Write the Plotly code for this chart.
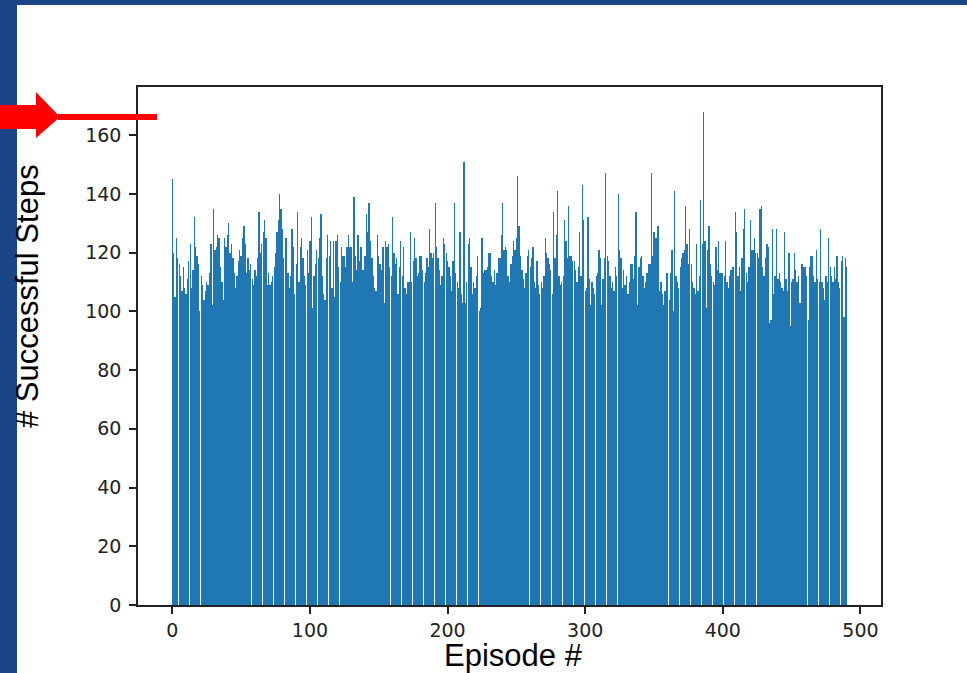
import plotly.graph_objects as go

# Successful steps per episode, in blocks of 100 episodes
steps_000_099 = [
    145, 120, 105, 125, 118, 116, 112, 107, 115, 108,
    106, 111, 117, 123, 108, 114, 132, 122, 119, 116,
    100, 112, 109, 104, 107, 110, 109, 113, 123, 102,
    135, 121, 122, 126, 125, 115, 110, 104, 125, 122,
    126, 130, 120, 123, 118, 113, 108, 112, 117, 121,
    119, 125, 129, 123, 113, 118, 114, 116, 111, 109,
    114, 112, 118, 134, 120, 123, 127, 131, 125, 109,
    113, 109, 110, 112, 115, 120, 127, 131, 140, 135,
    128, 118, 125, 125, 113, 108, 112, 128, 122, 106,
    116, 134, 110, 122, 125, 118, 112, 109, 121, 113,
]
steps_100_199 = [
    124, 132, 101, 112, 116, 121, 118, 125, 133, 112,
    106, 104, 118, 126, 119, 124, 108, 124, 105, 124,
    126, 115, 110, 122, 119, 119, 115, 122, 126, 122,
    122, 110, 139, 119, 114, 126, 117, 122, 114, 114,
    119, 133, 127, 137, 124, 118, 112, 108, 107, 126,
    119, 116, 114, 122, 103, 124, 122, 123, 115, 112,
    132, 120, 116, 118, 106, 115, 124, 112, 122, 108,
    106, 110, 110, 127, 110, 117, 125, 118, 112, 113,
    119, 119, 114, 110, 113, 118, 115, 128, 120, 118,
    120, 137, 122, 118, 114, 109, 112, 125, 123, 120,
]
steps_200_299 = [
    117, 115, 112, 107, 117, 137, 113, 110, 108, 127,
    106, 103, 151, 103, 110, 123, 125, 115, 106, 110,
    108, 112, 119, 100, 101, 125, 113, 114, 114, 115,
    120, 120, 112, 110, 114, 109, 113, 118, 118, 126,
    137, 121, 122, 121, 112, 110, 116, 119, 124, 121,
    125, 146, 129, 119, 114, 111, 108, 113, 119, 121,
    115, 118, 122, 110, 108, 117, 109, 106, 110, 108,
    112, 125, 120, 118, 116, 114, 106, 134, 118, 126,
    141, 112, 109, 110, 112, 131, 124, 118, 136, 119,
    119, 117, 117, 114, 110, 115, 127, 112, 143, 131,
]
steps_300_399 = [
    107, 108, 132, 111, 102, 110, 108, 106, 112, 113,
    121, 118, 102, 111, 118, 147, 119, 117, 112, 108,
    110, 107, 115, 112, 140, 121, 118, 108, 114, 109,
    112, 106, 110, 116, 116, 111, 119, 134, 102, 115,
    118, 119, 112, 108, 110, 113, 116, 116, 147, 119,
    127, 125, 125, 129, 107, 110, 106, 102, 107, 113,
    113, 104, 113, 121, 100, 141, 112, 110, 108, 115,
    118, 120, 121, 136, 123, 116, 128, 116, 110, 108,
    106, 123, 107, 112, 138, 123, 168, 124, 101, 121,
    129, 116, 112, 110, 109, 122, 114, 124, 113, 113,
]
steps_400_490 = [
    113, 112, 124, 110, 108, 112, 114, 115, 115, 134,
    127, 112, 115, 107, 118, 128, 135, 113, 110, 115,
    131, 121, 121, 125, 120, 120, 118, 135, 136, 115,
    112, 118, 123, 122, 96, 97, 128, 106, 112, 128,
    111, 113, 110, 108, 107, 127, 111, 107, 120, 95,
    110, 111, 120, 114, 110, 112, 103, 116, 116, 115,
    115, 112, 97, 115, 119, 119, 112, 110, 121, 111,
    110, 128, 110, 108, 104, 112, 110, 125, 115, 112,
    110, 115, 111, 119, 110, 108, 117, 119, 98, 118,
    115,
]

successful_steps = (steps_000_099 + steps_100_199 + steps_200_299
                    + steps_300_399 + steps_400_490)
episodes = list(range(len(successful_steps)))

x_ticks = [0, 100, 200, 300, 400, 500]
y_ticks = [0, 20, 40, 60, 80, 100, 120, 140, 160]

W, H = 967, 673
L, R, T, B = 138, 86, 87, 68          # plot-area margins in px
PW, PH = W - L - R, H - T - B


def px(x):
    return (x - L) / PW


def py(y):
    return (H - B - y) / PH


x_pad = 0.05 * (len(episodes) - 1 + 0.8)
x_range = [-0.4 - x_pad, len(episodes) - 1 + 0.4 + x_pad]
y_range = [0, max(successful_steps) * 1.05]

fig = go.Figure(
    go.Bar(
        x=episodes,
        y=successful_steps,
        width=0.94,
        marker=dict(color="rgba(31,119,180,0.999)", line=dict(width=0)),
        hoverinfo="x+y",
    )
)

tick_font = dict(family="DejaVu Sans", size=19, color="#222")
axis_common = dict(
    showline=True, mirror=True, linecolor="#222", linewidth=1.5,
    ticks="outside", ticklen=7, tickwidth=1.5, tickcolor="#222",
    showgrid=False, zeroline=False, tickfont=tick_font,
)

fig.update_xaxes(range=x_range, tickvals=x_ticks, **axis_common)
fig.update_yaxes(range=y_range, tickvals=y_ticks, ticklabelstandoff=4,
                 **axis_common)

blue = "#1c4587"
red = "#ff0000"
shapes = [
    # slide frame: left strip and top strip
    dict(type="rect", xref="paper", yref="paper", layer="above",
         x0=px(0), x1=px(17), y0=py(H), y1=py(0),
         fillcolor=blue, line=dict(width=0)),
    dict(type="rect", xref="paper", yref="paper", layer="above",
         x0=px(0), x1=px(W), y0=py(5), y1=py(0),
         fillcolor=blue, line=dict(width=0)),
    # red pointer arrow
    dict(type="path", xref="paper", yref="paper", layer="above",
         path=("M {a},{b} L {c},{b} L {c},{d} L {e},{f} L {c},{g} "
               "L {c},{h} L {a},{h} Z").format(
             a=px(0), b=py(105), c=px(36), d=py(92), e=px(60),
             f=py(117), g=py(138), h=py(129)),
         fillcolor=red, line=dict(width=0)),
    dict(type="rect", xref="paper", yref="paper", layer="above",
         x0=px(58), x1=px(157), y0=py(120), y1=py(114),
         fillcolor=red, line=dict(width=0)),
]

annotations = [
    dict(text="Episode #", xref="paper", yref="paper",
         x=px(513), y=py(655), xanchor="center", yanchor="middle",
         showarrow=False, borderpad=0,
         font=dict(family="Liberation Sans, Arial", size=31, color="#000")),
    dict(text="# Successful Steps", xref="paper", yref="paper",
         x=px(27), y=py(296), xanchor="center", yanchor="middle",
         textangle=-90, showarrow=False, borderpad=0,
         font=dict(family="Liberation Sans, Arial", size=31, color="#000")),
]

fig.update_layout(
    width=W, height=H,
    margin=dict(l=L, r=R, t=T, b=B, pad=0),
    paper_bgcolor="white", plot_bgcolor="white",
    bargap=0, bargroupgap=0,
    showlegend=False,
    shapes=shapes,
    annotations=annotations,
)

fig.write_html("out.html")
